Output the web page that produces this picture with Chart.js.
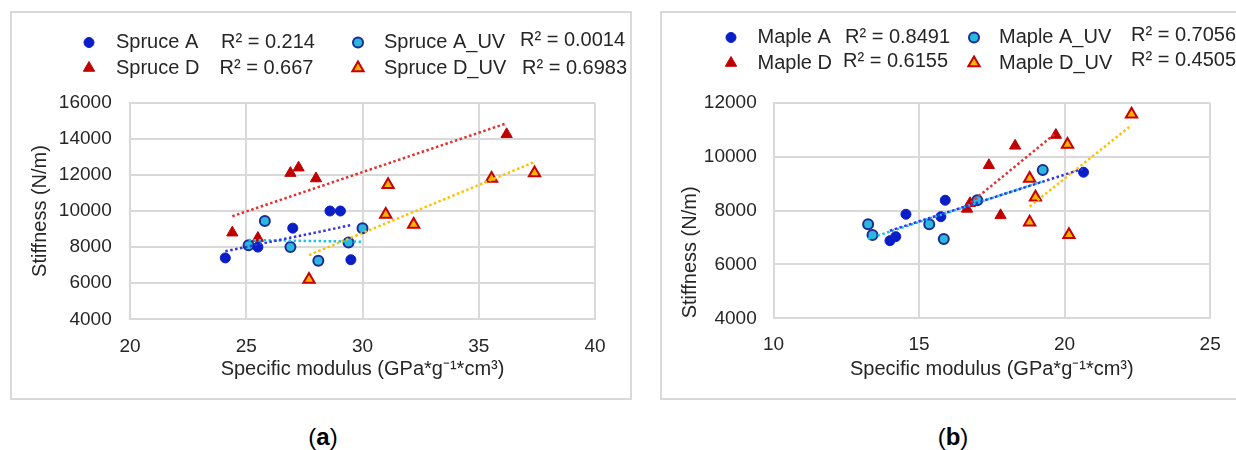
<!DOCTYPE html>
<html>
<head>
<meta charset="utf-8">
<script src="https://cdn.jsdelivr.net/npm/chart.js@4.4.1/dist/chart.umd.min.js"></script>
<style>
  body { margin:0; background:#fff; width:1236px; height:450px; position:relative; overflow:hidden;
         font-family:"Liberation Sans", Arial, sans-serif; }
  .frame { position:absolute; border:2px solid #d9d9d9; box-sizing:border-box; }
  canvas { position:absolute; top:0; }
  .cap { position:absolute; top:422px; width:100px; height:30px; line-height:30px; text-align:center;
         font-size:24px; color:#000; }
</style>
</head>
<body>
<div class="frame" style="left:10px;top:11px;width:622px;height:389px"></div>
<div class="frame" style="left:660px;top:11px;width:590px;height:389px"></div>
<canvas id="chartA" width="640" height="400" style="left:0"></canvas>
<canvas id="chartB" width="596" height="400" style="left:640px"></canvas>
<div class="cap" style="left:273px">(<b>a</b>)</div>
<div class="cap" style="left:903px">(<b>b</b>)</div>

<script>
/* Data: (a) spruce */
const spruceNames = ["Spruce A", "Spruce A_UV", "Spruce D", "Spruce D_UV"];
const spruceR2 = ["0.214", "0.0014", "0.667", "0.6983"];
const spruceAx = [24.1, 25.5, 27.0, 28.6, 29.05, 29.5];
const spruceAy = [7400, 8000, 9050, 10000, 10000, 7300];
const spruceAUVx = [25.1, 25.8, 26.9, 28.1, 29.4, 30.0];
const spruceAUVy = [8100, 9450, 8000, 7250, 8250, 9050];
const spruceDx = [24.4, 25.5, 26.9, 27.25, 28.0, 36.2];
const spruceDy = [8800, 8500, 12100, 12400, 11800, 14250];
const spruceDUVx = [27.7, 31.1, 31.0, 32.2, 35.55, 37.4];
const spruceDUVy = [6200, 11450, 9800, 9250, 11800, 12100];
// trendline end points (x0,x1) / (y0,y1)
const spruceTrendX = [[24.1, 29.5], [25.1, 30.0], [24.4, 36.2], [27.7, 37.4]];
const spruceTrendY = [[7770, 9215], [8390, 8300], [9710, 14860], [7560, 12715]];
const spruceXTicks = [20, 40, 5];
const spruceYTicks = [4000, 16000, 2000];

/* Data: (b) maple */
const mapleNames = ["Maple A", "Maple A_UV", "Maple D", "Maple D_UV"];
const mapleR2 = ["0.8491", "0.7056", "0.6155", "0.4505"];
const mapleAx = [14.0, 14.2, 14.55, 15.75, 15.9, 20.65];
const mapleAy = [6880, 7030, 7860, 7770, 8380, 9420];
const mapleAUVx = [13.25, 13.4, 15.35, 15.85, 17.0, 19.25];
const mapleAUVy = [7490, 7090, 7490, 6940, 8380, 9500];
const mapleDx = [16.65, 16.75, 17.4, 17.8, 18.3, 19.7];
const mapleDy = [8060, 8270, 9680, 7820, 10400, 10800];
const mapleDUVx = [18.8, 19.0, 18.8, 20.1, 20.15, 22.3];
const mapleDUVy = [9190, 8490, 7560, 10450, 7100, 11570];
const mapleTrendX = [[14.0, 20.65], [13.25, 19.25], [16.65, 19.7], [18.8, 22.3]];
const mapleTrendY = [[7250, 9555], [6950, 9085], [8180, 10870], [8150, 11165]];
const mapleXTicks = [10, 25, 5];
const mapleYTicks = [4000, 12000, 2000];

/* Styles */
const FONT = '"Liberation Sans", Arial, sans-serif';
const TEXT = "#262626";
const GRID = "#d9d9d9";
const styles = [
    { pointStyle: "circle", radius: 5, bg: "#0a1ec8", border: "#0a1ec8", bw: 1, trend: "#3535e6" },
    { pointStyle: "circle", radius: 5, bg: "#2ab8dc", border: "#1c2a96", bw: 2, trend: "#14c4f2" },
    { pointStyle: "triangle", radius: 6.5, bg: "#c00000", border: "#c00000", bw: 1, trend: "#e53030" },
    { pointStyle: "triangle", radius: 6.5, bg: "#ffb400", border: "#c80000", bw: 2, trend: "#ffc000" }
];

const zip = (xs, ys) => xs.map((x, i) => ({ x, y: ys[i] }));

/* Legend with R² labels, drawn over the top margin */
const r2Legend = {
    id: "r2Legend",
    afterDraw(chart, args, opts) {
        const ctx = chart.ctx;
        ctx.save();
        ctx.font = "20px " + FONT;
        ctx.textBaseline = "middle";
        ctx.textAlign = "left";
        opts.items.forEach(it => {
            const ds = chart.data.datasets[it.ds];
            ctx.fillStyle = ds.backgroundColor;
            ctx.strokeStyle = ds.borderColor;
            ctx.lineWidth = ds.borderWidth;
            Chart.helpers.drawPoint(ctx, {
                pointStyle: ds.pointStyle, radius: ds.pointRadius, rotation: 0, borderWidth: ds.borderWidth
            }, it.mx, it.y);
            ctx.fillStyle = TEXT;
            ctx.fillText(ds.label, it.tx, it.y);
            ctx.fillText("R\u00b2 = " + it.r2, it.rx, it.ry);
        });
        ctx.restore();
    }
};

function makeChart(canvas, p) {
    const datasets = [];
    p.points.forEach((pts, i) => {
        const s = styles[i];
        datasets.push({
            label: p.names[i], data: pts, order: 1,
            pointStyle: s.pointStyle, pointRadius: s.radius,
            backgroundColor: s.bg, borderColor: s.border, borderWidth: s.bw
        });
    });
    p.trendX.forEach((xs, i) => {
        datasets.push({
            label: p.names[i] + " trend", data: zip(xs, p.trendY[i]), order: 0,
            showLine: true, pointRadius: 0, borderColor: styles[i].trend,
            borderWidth: 2.5, borderDash: [2.5, 2.5], fill: false
        });
    });

    const tickFont = { size: 19, family: FONT };
    return new Chart(canvas, {
        type: "scatter",
        data: { datasets },
        plugins: [r2Legend],
        options: {
            responsive: false,
            animation: false,
            layout: { padding: { top: p.top, right: p.right, left: 0, bottom: 0 } },
            plugins: {
                legend: { display: false },
                tooltip: { enabled: false },
                r2Legend: { items: p.legend }
            },
            scales: {
                x: {
                    type: "linear", min: p.xTicks[0], max: p.xTicks[1],
                    ticks: { stepSize: p.xTicks[2], font: tickFont, color: TEXT, padding: p.xPad, callback: v => String(v) },
                    grid: { color: GRID, lineWidth: 2, drawTicks: false },
                    border: { color: GRID, width: 2 },
                    title: {
                        display: true, text: "Specific modulus (GPa*g\u207b\u00b9*cm\u00b3)",
                        font: { size: 20, family: FONT }, color: TEXT, padding: { top: 0, bottom: p.xTitlePad }
                    },
                    afterFit: s => { s.height = p.xHeight; }
                },
                y: {
                    type: "linear", min: p.yTicks[0], max: p.yTicks[1],
                    ticks: { stepSize: p.yTicks[2], font: tickFont, color: TEXT, padding: p.yPad, callback: v => String(v) },
                    grid: { color: GRID, lineWidth: 2, drawTicks: false },
                    border: { color: GRID, width: 2 },
                    title: {
                        display: true, text: "Stiffness (N/m)", align: p.yAlign,
                        font: { size: 20, family: FONT }, color: TEXT, padding: { top: p.yTitlePad, bottom: 0 }
                    },
                    afterFit: s => { s.width = p.yWidth; }
                }
            }
        }
    });
}

/* (a) */
makeChart(document.getElementById("chartA"), {
    names: spruceNames,
    points: [zip(spruceAx, spruceAy), zip(spruceAUVx, spruceAUVy), zip(spruceDx, spruceDy), zip(spruceDUVx, spruceDUVy)],
    trendX: spruceTrendX, trendY: spruceTrendY,
    xTicks: spruceXTicks, yTicks: spruceYTicks,
    top: 102.7, right: 45, yWidth: 130, xHeight: 80.7,
    yPad: 18.3, xPad: 16, yTitlePad: 28, xTitlePad: 19, yAlign: "center",
    legend: [
        { ds: 0, mx: 89, tx: 116, y: 42.5, r2: spruceR2[0], rx: 221, ry: 42.5 },
        { ds: 1, mx: 358, tx: 384, y: 42.5, r2: spruceR2[1], rx: 520, ry: 40 },
        { ds: 2, mx: 89, tx: 116, y: 68, r2: spruceR2[2], rx: 219.5, ry: 68 },
        { ds: 3, mx: 358, tx: 384, y: 68, r2: spruceR2[3], rx: 522, ry: 68 }
    ]
});

/* (b) */
makeChart(document.getElementById("chartB"), {
    names: mapleNames,
    points: [zip(mapleAx, mapleAy), zip(mapleAUVx, mapleAUVy), zip(mapleDx, mapleDy), zip(mapleDUVx, mapleDUVy)],
    trendX: mapleTrendX, trendY: mapleTrendY,
    xTicks: mapleXTicks, yTicks: mapleYTicks,
    top: 102.7, right: 20, yWidth: 133.5, xHeight: 81.7,
    yPad: 16.8, xPad: 15.3, yTitlePad: 38, xTitlePad: 18.7, yAlign: "start",
    legend: [
        { ds: 0, mx: 91, tx: 117.5, y: 37.5, r2: mapleR2[0], rx: 205, ry: 37 },
        { ds: 1, mx: 334, tx: 359, y: 37.5, r2: mapleR2[1], rx: 491, ry: 35 },
        { ds: 2, mx: 91, tx: 117.5, y: 63, r2: mapleR2[2], rx: 203, ry: 61.7 },
        { ds: 3, mx: 334, tx: 359, y: 63, r2: mapleR2[3], rx: 491, ry: 60 }
    ]
});
</script>
</body>
</html>
